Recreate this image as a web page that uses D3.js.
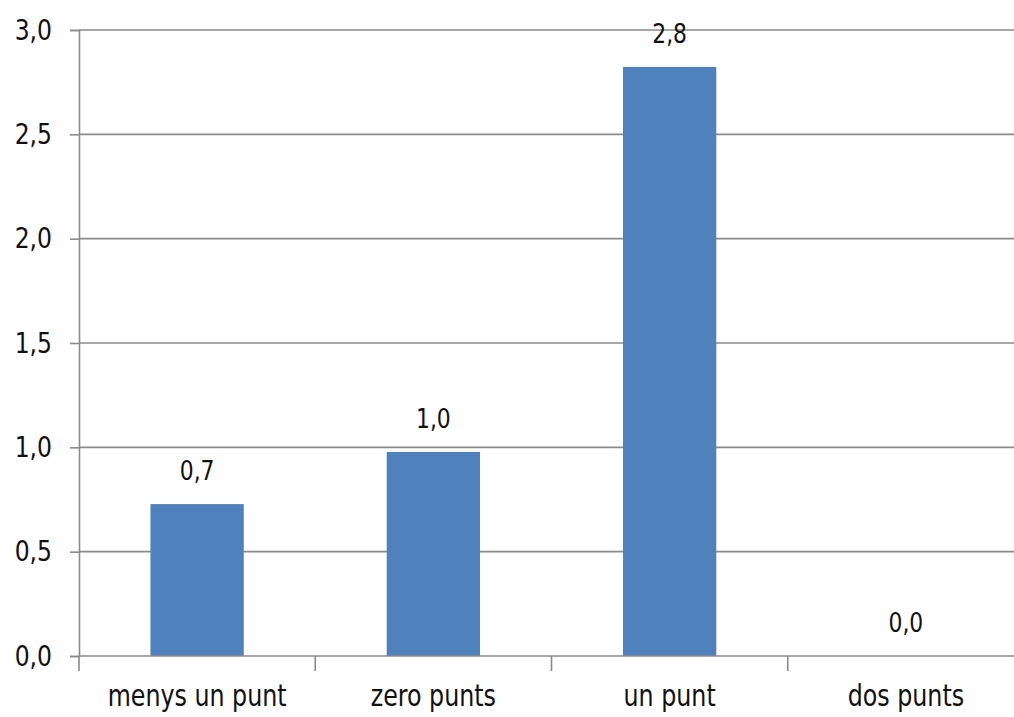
<!DOCTYPE html>
<html><head><meta charset="utf-8">
<script src="https://cdn.jsdelivr.net/npm/d3@7"></script>
<style>body{margin:0;background:#fff}</style>
</head><body>
<script>
const categories = ["menys un punt", "zero punts", "un punt", "dos punts"];
const values = [0.728, 0.978, 2.823, 0.0];
const valueLabels = ["0,7", "1,0", "2,8", "0,0"];
const yTicks = [0, 0.5, 1.0, 1.5, 2.0, 2.5, 3.0];
const yTickLabels = ["0,0", "0,5", "1,0", "1,5", "2,0", "2,5", "3,0"];

const W = 1014, H = 717;
const mLeft = 79, mRight = 1024, mTop = 30, mBottom = 656;
const font = "'DejaVu Sans Condensed', 'Liberation Sans', sans-serif";

const svg = d3.select("body").append("svg").attr("width", W).attr("height", H);
const x = d3.scaleBand().domain(categories).range([mLeft, mRight]).paddingInner(0.605).paddingOuter(0.3025);
const xb = d3.scaleBand().domain(categories).range([mLeft, mRight]);
const y = d3.scaleLinear().domain([0, 3]).range([mBottom, mTop]);

// gridlines
svg.append("g").selectAll("line").data(yTicks.filter(d => d > 0)).join("line")
  .attr("x1", mLeft).attr("x2", W).attr("y1", d => y(d)).attr("y2", d => y(d))
  .attr("stroke", "#8a8a8a").attr("stroke-width", 1.6);

// y axis
const yAxis = d3.axisLeft(y).tickValues(yTicks).tickSize(9).tickPadding(21)
  .tickFormat((d, i) => yTickLabels[i]);
const gy = svg.append("g").attr("transform", `translate(${mLeft},0)`).call(yAxis);
gy.select(".domain").attr("stroke", "#8a8a8a").attr("stroke-width", 1.6);
gy.selectAll(".tick line").attr("stroke", "#8a8a8a").attr("stroke-width", 1.6);
gy.selectAll(".tick text").attr("font-family", font).attr("font-size", 29).attr("fill", "#111")
  .attr("transform", "scale(0.9,1)");

// bars
svg.append("g").selectAll("rect").data(values).join("rect")
  .attr("x", (d, i) => x(categories[i])).attr("width", x.bandwidth())
  .attr("y", d => y(d)).attr("height", d => y(0) - y(d))
  .attr("fill", "#4f81bd");

// x axis
const xAxis = d3.axisBottom(xb).tickSize(0).tickPadding(29);
const gx = svg.append("g").attr("transform", `translate(0,${mBottom})`).call(xAxis);
gx.select(".domain").remove();
svg.append("line").attr("x1", mLeft).attr("x2", W).attr("y1", mBottom).attr("y2", mBottom)
  .attr("stroke", "#8a8a8a").attr("stroke-width", 1.6);
gx.selectAll(".tick text").attr("font-family", font).attr("font-size", 30).attr("fill", "#111")
  .attr("transform", "scale(0.88,1)");
// category boundary ticks
svg.append("g").selectAll("line").data(categories).join("line")
  .attr("x1", d => xb(d)).attr("x2", d => xb(d))
  .attr("y1", mBottom).attr("y2", mBottom + 15)
  .attr("stroke", "#8a8a8a").attr("stroke-width", 1.6);

// value labels
svg.append("g").selectAll("text").data(values).join("text")
  .attr("transform", (d, i) => `translate(${x(categories[i]) + x.bandwidth() / 2},${y(d) - 24}) scale(0.9,1)`)
  .attr("text-anchor", "middle")
  .attr("font-family", font).attr("font-size", 27).attr("fill", "#111")
  .text((d, i) => valueLabels[i]);
</script>
</body></html>
